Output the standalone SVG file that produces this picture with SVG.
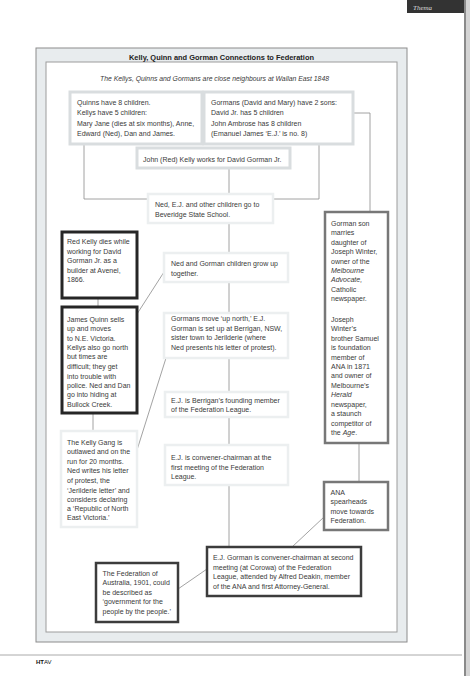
<svg xmlns="http://www.w3.org/2000/svg" width="474" height="676" viewBox="0 0 474 676">
<style>
text{font-family:"Liberation Sans",Arial,sans-serif;fill:#3a3a3a;font-size:7px}
.t{font-weight:bold;font-size:7.6px;fill:#222}
.it{font-style:italic}
.lb{fill:#fff;stroke:#d9dddf;stroke-width:3}
.fb{fill:#fff;stroke:#eceff0;stroke-width:2.5}
.dk{fill:#fff;stroke:#262626;stroke-width:3}
.dg{fill:#fff;stroke:#3c3c3c;stroke-width:2.5}
.md{fill:#fff;stroke:#777;stroke-width:2.5}
.c{fill:none;stroke:#8a8a8a;stroke-width:0.8}
</style>
<rect width="474" height="676" fill="#fff"/>
<g id="page">
<rect x="407" y="0" width="57" height="13" fill="#333"/>
<text x="413" y="10" style="font-family:'Liberation Serif',serif;font-style:italic;fill:#ddd;font-size:7px">Thema</text>
<rect x="464" y="0" width="2" height="676" fill="#8a8a8a"/>
<rect x="466" y="0" width="4" height="676" fill="#d4d4d4"/>
<line x1="0" y1="655" x2="462" y2="655" stroke="#aaa" stroke-width="1"/>
<text x="36" y="663.5" style="font-size:6px;fill:#111"><tspan font-weight="bold">HT</tspan>AV</text>
</g>
<g id="frame">
<rect x="36" y="48" width="371" height="594" fill="#e8ecee" stroke="#8c8c8c" stroke-width="1"/>
<rect x="46" y="62" width="351" height="570" fill="#fff" stroke="#9c9c9c" stroke-width="1"/>
<text class="t" x="221.5" y="59.5" text-anchor="middle" textLength="185" lengthAdjust="spacingAndGlyphs">Kelly, Quinn and Gorman Connections to Federation</text>
<text class="it" x="214.5" y="81" text-anchor="middle" style="font-size:7.4px" textLength="229" lengthAdjust="spacingAndGlyphs">The Kellys, Quinns and Gormans are close neighbours at Wallan East 1848</text>
</g>
<g id="connectors">
<polyline class="c" points="84,144 84,199 150,199"/>
<polyline class="c" points="319,144 319,199 271,199"/>
<polyline class="c" points="290,113 370,113 370,212"/>
<line class="c" x1="229" y1="168" x2="229" y2="195"/>
<line class="c" x1="229" y1="222" x2="229" y2="253"/>
<line class="c" x1="229" y1="282" x2="229" y2="313"/>
<line class="c" x1="229" y1="358" x2="229" y2="392"/>
<line class="c" x1="229" y1="417" x2="229" y2="445"/>
<line class="c" x1="229" y1="485" x2="229" y2="547"/>
<line class="c" x1="98" y1="298" x2="98" y2="307"/>
<line class="c" x1="93" y1="413" x2="93" y2="431"/>
<line class="c" x1="137" y1="314" x2="164" y2="272"/>
<line class="c" x1="166" y1="358" x2="137" y2="450"/>
<line class="c" x1="359" y1="443" x2="359" y2="482"/>
<line class="c" x1="324" y1="517" x2="292" y2="547"/>
<line class="c" x1="178" y1="589" x2="207" y2="569"/>
</g>
<g id="quinns">
<rect class="lb" x="70" y="92" width="132" height="52"/>
<text x="77" y="104.5">Quinns have 8 children.</text>
<text x="77" y="115">Kellys have 5 children:</text>
<text x="77" y="125.5">Mary Jane (dies at six months), Anne,</text>
<text x="77" y="136">Edward (Ned), Dan and James.</text>
</g>
<g id="gormans">
<rect class="lb" x="204" y="92" width="149" height="52"/>
<text x="211" y="104.5">Gormans (David and Mary) have 2 sons:</text>
<text x="211" y="115">David Jr. has 5 children</text>
<text x="211" y="125.5">John Ambrose has 8 children</text>
<text x="211" y="136">(Emanuel James ‘E.J.’ is no. 8)</text>
</g>
<g id="redkelly-works">
<rect class="lb" x="137" y="148" width="153" height="20"/>
<text x="143" y="161.5">John (Red) Kelly works for David Gorman Jr.</text>
</g>
<g id="school">
<rect class="fb" x="148" y="194" width="125" height="29"/>
<text x="155" y="206.5">Ned, E.J. and other children go to</text>
<text x="155" y="216.5">Beveridge State School.</text>
</g>
<g id="grow-up">
<rect class="fb" x="164" y="253" width="124" height="29"/>
<text x="171" y="266">Ned and Gorman children grow up</text>
<text x="171" y="275.5">together.</text>
</g>
<g id="move-north">
<rect class="fb" x="164" y="313" width="124" height="45"/>
<text x="171" y="321">Gormans move ‘up north,’ E.J.</text>
<text x="171" y="330.5">Gorman is set up at Berrigan, NSW,</text>
<text x="171" y="340">sister town to Jerilderie (where</text>
<text x="171" y="349.5">Ned presents his letter of protest).</text>
</g>
<g id="berrigan">
<rect class="fb" x="165" y="392" width="123" height="25"/>
<text x="171" y="402.5">E.J. is Berrigan’s founding member</text>
<text x="171" y="412">of the Federation League.</text>
</g>
<g id="convener">
<rect class="fb" x="165" y="445" width="123" height="40"/>
<text x="171" y="460">E.J. is convener-chairman at the</text>
<text x="171" y="469.5">first meeting of the Federation</text>
<text x="171" y="479">League.</text>
</g>
<g id="red-kelly-dies">
<rect class="dk" x="62" y="232" width="75" height="66"/>
<text x="67" y="244">Red Kelly dies while</text>
<text x="67" y="253.5">working for David</text>
<text x="67" y="263">Gorman Jr. as a</text>
<text x="67" y="272.5">builder at Avenel,</text>
<text x="67" y="282">1866.</text>
</g>
<g id="james-quinn">
<rect class="dk" x="62" y="307" width="75" height="106"/>
<text x="67" y="321.5">James Quinn sells</text>
<text x="67" y="331">up and moves</text>
<text x="67" y="340.5">to N.E. Victoria.</text>
<text x="67" y="349.5">Kellys also go north</text>
<text x="67" y="359">but times are</text>
<text x="67" y="369">difficult; they get</text>
<text x="67" y="378.5">into trouble with</text>
<text x="67" y="387.5">police. Ned and Dan</text>
<text x="67" y="397">go into hiding at</text>
<text x="67" y="406.5">Bullock Creek.</text>
</g>
<g id="kelly-gang">
<rect class="fb" x="61" y="431" width="76" height="96"/>
<text x="67" y="444.5">The Kelly Gang is</text>
<text x="67" y="454">outlawed and on the</text>
<text x="67" y="463.5">run for 20 months.</text>
<text x="67" y="472.5">Ned writes his letter</text>
<text x="67" y="483">of protest, the</text>
<text x="67" y="492.5">‘Jerilderie letter’ and</text>
<text x="67" y="501.5">considers declaring</text>
<text x="67" y="510.5">a ‘Republic of North</text>
<text x="67" y="519.5">East Victoria.’</text>
</g>
<g id="federation">
<rect class="dg" x="96" y="563" width="82" height="59"/>
<text x="102.5" y="575.5">The Federation of</text>
<text x="102.5" y="585">Australia, 1901, could</text>
<text x="102.5" y="594.5">be described as</text>
<text x="102.5" y="604">‘government for the</text>
<text x="102.5" y="613.5">people by the people.’</text>
</g>
<g id="second-meeting">
<rect class="dg" x="207" y="547" width="154" height="49"/>
<text x="213" y="560">E.J. Gorman is convener-chairman at second</text>
<text x="213" y="569.5">meeting (at Corowa) of the Federation</text>
<text x="213" y="579">League, attended by Alfred Deakin, member</text>
<text x="213" y="588.5">of the ANA and first Attorney-General.</text>
</g>
<g id="gorman-son">
<rect class="md" x="325" y="212" width="63" height="231"/>
<text x="331" y="225.5">Gorman son</text>
<text x="331" y="234.5">marries</text>
<text x="331" y="244.5">daughter of</text>
<text x="331" y="253.5">Joseph Winter,</text>
<text x="331" y="263.5">owner of the</text>
<text x="331" y="272.5" class="it">Melbourne</text>
<text x="331" y="281.5" class="it">Advocate,</text>
<text x="331" y="291.5">Catholic</text>
<text x="331" y="300.5">newspaper.</text>
<text x="331" y="321.5">Joseph</text>
<text x="331" y="330.5">Winter’s</text>
<text x="331" y="340.5">brother Samuel</text>
<text x="331" y="349.5">is foundation</text>
<text x="331" y="359.5">member of</text>
<text x="331" y="368.5">ANA in 1871</text>
<text x="331" y="377.5">and owner of</text>
<text x="331" y="387.5">Melbourne’s</text>
<text x="331" y="396.5" class="it">Herald</text>
<text x="331" y="406.5">newspaper,</text>
<text x="331" y="415.5">a staunch</text>
<text x="331" y="425.5">competitor of</text>
<text x="331" y="434.5">the <tspan class="it">Age</tspan>.</text>
</g>
<g id="ana">
<rect class="md" x="324" y="482" width="64" height="48"/>
<text x="330.5" y="494.5">ANA</text>
<text x="330.5" y="504">spearheads</text>
<text x="330.5" y="513.5">move towards</text>
<text x="330.5" y="523">Federation.</text>
</g>
</svg>
